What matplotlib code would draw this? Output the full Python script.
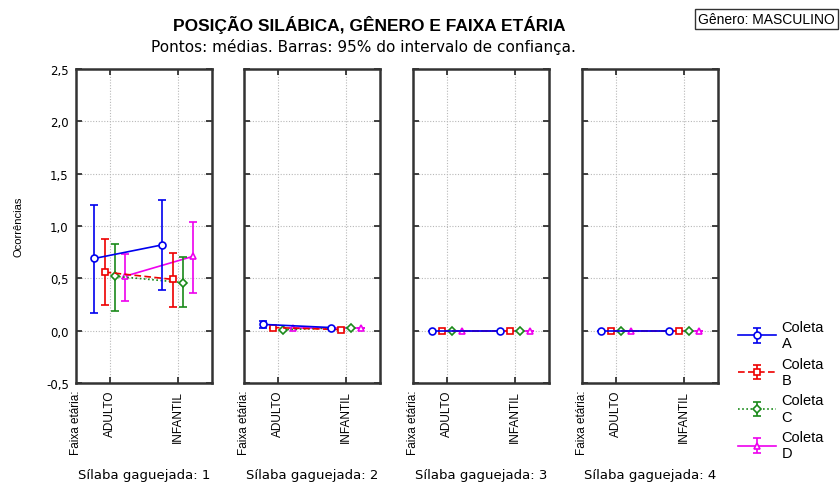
import matplotlib
matplotlib.use("Agg")
import matplotlib.pyplot as plt
from matplotlib.ticker import FuncFormatter
import numpy as np

# ---- data ----
categories = ["ADULTO", "INFANTIL"]
series = ["Coleta\nA", "Coleta\nB", "Coleta\nC", "Coleta\nD"]
panels = ["Sílaba gaguejada: 1", "Sílaba gaguejada: 2", "Sílaba gaguejada: 3", "Sílaba gaguejada: 4"]

# means[panel][series] = [ADULTO, INFANTIL]
mean_s1 = [[0.69, 0.82], [0.56, 0.49], [0.52, 0.46], [0.52, 0.71]]
low_s1 = [[0.17, 0.39], [0.25, 0.23], [0.19, 0.23], [0.28, 0.36]]
high_s1 = [[1.20, 1.25], [0.88, 0.74], [0.83, 0.70], [0.73, 1.04]]

mean_s2 = [[0.06, 0.03], [0.03, 0.01], [0.01, 0.03], [0.03, 0.03]]
low_s2 = [[0.03, 0.03], [0.03, 0.01], [0.01, 0.03], [0.03, 0.03]]
high_s2 = [[0.09, 0.03], [0.03, 0.01], [0.01, 0.03], [0.03, 0.03]]

mean_s3 = [[0.0, 0.0], [0.0, 0.0], [0.0, 0.0], [0.0, 0.0]]
low_s3 = [[0.0, 0.0], [0.0, 0.0], [0.0, 0.0], [0.0, 0.0]]
high_s3 = [[0.0, 0.0], [0.0, 0.0], [0.0, 0.0], [0.0, 0.0]]

mean_s4 = [[0.0, 0.0], [0.0, 0.0], [0.0, 0.0], [0.0, 0.0]]
low_s4 = [[0.0, 0.0], [0.0, 0.0], [0.0, 0.0], [0.0, 0.0]]
high_s4 = [[0.0, 0.0], [0.0, 0.0], [0.0, 0.0], [0.0, 0.0]]

yticks = [-0.5, 0.0, 0.5, 1.0, 1.5, 2.0, 2.5]

means = [mean_s1, mean_s2, mean_s3, mean_s4]
lows = [low_s1, low_s2, low_s3, low_s4]
highs = [high_s1, high_s2, high_s3, high_s4]

# ---- style ----
colors = ["#0000ee", "#ee0000", "#1a8a1a", "#ee00ee"]
markers = ["o", "s", "D", "^"]
msizes = [5, 5, 4, 5]
lstyles = ["-", (0, (4, 2)), (0, (1, 1.5)), "-"]
offsets = [-0.225, -0.075, 0.075, 0.225]

sans = ["Liberation Sans", "DejaVu Sans"]
wide = ["DejaVu Sans"]
plt.rcParams["font.family"] = sans

fig = plt.figure(figsize=(8.4, 4.85), dpi=100)
W, H = 840.0, 485.0
lefts = [75.7, 244.0, 413.0, 582.0]
pw = 136.0
top_px, bot_px = 70.0, 384.0

handles = []
for p in range(4):
    ax = fig.add_axes([lefts[p] / W, 1 - bot_px / H, pw / W, (bot_px - top_px) / H])
    x = np.arange(len(categories))
    for s in range(4):
        m = np.array(means[p][s])
        lo = m - np.array(lows[p][s])
        hi = np.array(highs[p][s]) - m
        eb = ax.errorbar(x + offsets[s], m, yerr=[lo, hi], color=colors[s],
                         ls=lstyles[s], lw=1.2, marker=markers[s],
                         ms=msizes[s], mfc="white", mec=colors[s], mew=1.2,
                         capsize=3, elinewidth=1.2, capthick=1.2, zorder=3 + (4 - s))
        if p == 0:
            handles.append(eb)
    ax.set_xlim(-0.5, 1.5)
    ax.set_ylim(-0.5, 2.5)
    ax.set_yticks(yticks)
    ax.set_xticks(x)
    ax.grid(True, color="#b8b8b8", ls=(0, (1, 1.5)), lw=0.8, zorder=0)
    ax.tick_params(direction="in", length=4, width=1.2, top=True, right=True,
                   color="#222222")
    ax.set_xticklabels(categories, rotation=90, fontsize=8.5, va="top")
    ax.tick_params(axis="x", pad=5)
    if p == 0:
        ax.yaxis.set_major_formatter(FuncFormatter(lambda v, _: f"{v:.1f}".replace(".", ",")))
        for lab in ax.get_yticklabels():
            lab.set_fontsize(8.5)
            lab.set_fontfamily(wide)
        ax.tick_params(axis="y", pad=5)
    else:
        ax.set_yticklabels([])
    for sp in ax.spines.values():
        sp.set_linewidth(1.8)
        sp.set_color("#333333")
    ax.text(-0.5, -0.02, "Faixa etária:", transform=ax.get_xaxis_transform(),
            rotation=90, ha="center", va="top", fontsize=8.5)
    fig.text((lefts[p] + pw / 2) / W, 1 - 476 / H, panels[p], ha="center",
             va="center", fontsize=9.5, fontfamily=wide)

fig.text(18 / W, 1 - 227 / H, "Ocorrências", rotation=90, ha="center",
         va="center", fontsize=8)

fig.text(369 / W, 1 - 25 / H, "POSIÇÃO SILÁBICA, GÊNERO E FAIXA ETÁRIA",
         ha="center", va="center", fontsize=12.5, fontweight="bold")
fig.text(363 / W, 1 - 47 / H, "Pontos: médias. Barras: 95% do intervalo de confiança.",
         ha="center", va="center", fontsize=11, fontfamily=wide)
fig.text(835 / W, 1 - 20 / H, "Gênero: MASCULINO", ha="right", va="center",
         fontsize=10,
         bbox=dict(boxstyle="square,pad=0.25", fc="white", ec="#333333", lw=1))

fig.legend(handles, series, loc="upper left", bbox_to_anchor=(732 / W, 1 - 315 / H),
           frameon=False, fontsize=10.5, handlelength=2.6, labelspacing=0.45,
           handletextpad=0.4, borderaxespad=0)

fig.savefig("out.png", dpi=100)
